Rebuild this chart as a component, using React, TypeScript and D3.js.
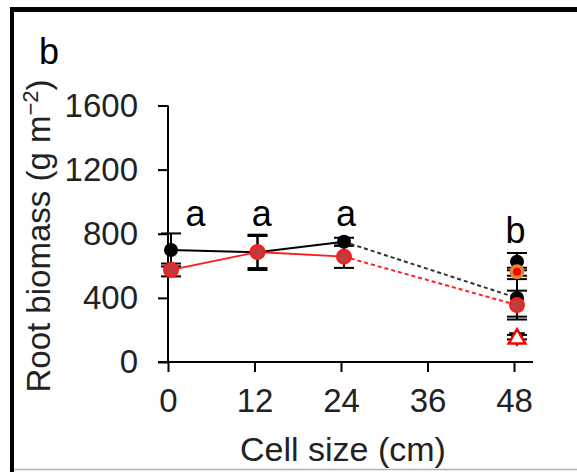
import {useEffect, useRef} from "react";
import * as d3 from "d3";

// cell sizes (cm) and root biomass (g m-2)
const cellSizes = [0, 12, 24, 48];
const blackMean = [699, 684, 750];
const blackErr = [103, 110, 25];
const redMean = [574, 686, 657];
const redErr = [40, 100, 70];

// values at 48 cm
const endBlackHigh = {v: 626, e: 54};
const endOrange = {v: 563, e: 25};
const endBlackLow = {v: 400, e: 117};
const endRedLow = {v: 355, e: 90};
const endBlackTri = {v: 155, e: 14};
const endRedTri = {v: 145, e: 0};

const letters = ["a", "a", "a", "b"];
const letterX = [3.8, 13, 24.7, 48.2];
const letterY = [850, 850, 850, 745];

const xTicks = [0, 12, 24, 36, 48];
const yTicks = [0, 400, 800, 1200, 1600];

const FONT = "Liberation Sans, Arial, sans-serif";

export default function App() {
    const svgRef = useRef<SVGSVGElement>(null);
    const width = 577;
    const height = 472;

    useEffect(() => {
        if (!svgRef.current) return;
        const svg = d3.select(svgRef.current);
        svg.selectAll("*").remove();

        const x = d3.scaleLinear().domain([0, 48]).range([168, 514]);
        const y = d3.scaleLinear().domain([0, 1600]).range([362, 105.5]);
        const dx = 3;

        // frame
        svg.append("rect").attr("x", 10).attr("y", 7).attr("width", width - 10).attr("height", 5).attr("fill", "#000");
        svg.append("rect").attr("x", 10).attr("y", 7).attr("width", 4).attr("height", height - 7).attr("fill", "#000");
        svg.append("line").attr("x1", 14).attr("x2", width).attr("y1", 469.5).attr("y2", 469.5)
            .attr("stroke", "#b0b0b0").attr("stroke-width", 1.5);

        // panel letter
        svg.append("text").text("b").attr("x", 39).attr("y", 64)
            .style("font-family", FONT).style("font-size", "36px");

        // axes
        const yAxis = svg.append("g").attr("transform", `translate(${x(0)},0)`)
            .call(d3.axisLeft(y).tickValues(yTicks).tickSize(10).tickSizeOuter(0).tickPadding(20).tickFormat(d3.format("d")));
        const xAxis = svg.append("g").attr("transform", `translate(0,${y(0)})`)
            .call(d3.axisBottom(x).tickValues(xTicks).tickSize(10).tickSizeOuter(0).tickPadding(17));
        [yAxis, xAxis].forEach(g => {
            g.select(".domain").remove();
            g.selectAll("line").attr("stroke", "#000").attr("stroke-width", 2);
            g.selectAll("text").style("font-family", FONT).style("font-size", "33px").attr("fill", "#222");
        });
        svg.append("line").attr("x1", x(0)).attr("x2", x(0)).attr("y1", y(1600)).attr("y2", y(0))
            .attr("stroke", "#000").attr("stroke-width", 2);
        svg.append("line").attr("x1", x(0) - 10).attr("x2", 533).attr("y1", y(0)).attr("y2", y(0))
            .attr("stroke", "#000").attr("stroke-width", 2);

        // axis titles
        svg.append("text").text("Cell size (cm)").attr("x", 343).attr("y", 461)
            .attr("text-anchor", "middle").style("font-family", FONT).style("font-size", "34px").attr("fill", "#222");
        const yt = svg.append("text").attr("transform", "translate(50,236) rotate(-90)")
            .attr("text-anchor", "middle").style("font-family", FONT).style("font-size", "33px").attr("fill", "#222");
        yt.append("tspan").text("Root biomass (g m");
        yt.append("tspan").text("\u22122").attr("dy", -12).style("font-size", "22px");
        yt.append("tspan").text(")").attr("dy", 12);

        const errBar = (cx: number, v: number, e: number, color = "#000") => {
            if (!e) return;
            const g = svg.append("g").attr("stroke", color).attr("stroke-width", 2);
            g.append("line").attr("x1", cx).attr("x2", cx).attr("y1", y(v - e)).attr("y2", y(v + e));
            [v - e, v + e].forEach(t => g.append("line").attr("x1", cx - 10).attr("x2", cx + 10).attr("y1", y(t)).attr("y2", y(t)));
        };

        const xs = cellSizes.slice(0, 3).map(c => x(c) + dx);
        const xe = x(48) + dx;

        // error bars
        xs.forEach((cx, i) => { errBar(cx, blackMean[i], blackErr[i]); errBar(cx, redMean[i], redErr[i]); });
        [endBlackHigh, endOrange, endBlackLow, endRedLow, endBlackTri].forEach(p => errBar(xe, p.v, p.e));

        // solid lines
        const line = d3.line<number>().x((d, i) => xs[i]).y(d => y(d));
        svg.append("path").attr("d", line(blackMean)).attr("fill", "none").attr("stroke", "#000").attr("stroke-width", 2);
        svg.append("path").attr("d", line(redMean)).attr("fill", "none").attr("stroke", "#ff1a1a").attr("stroke-width", 1.8);

        // dashed lines to 48
        svg.append("line").attr("x1", xs[2]).attr("y1", y(blackMean[2])).attr("x2", xe).attr("y2", y(endBlackLow.v))
            .attr("stroke", "#333").attr("stroke-width", 2).attr("stroke-dasharray", "4,3");
        svg.append("line").attr("x1", xs[2]).attr("y1", y(redMean[2])).attr("x2", xe).attr("y2", y(endRedLow.v))
            .attr("stroke", "#ff2020").attr("stroke-width", 2).attr("stroke-dasharray", "4,3");

        const blackDot = (cx: number, v: number) =>
            svg.append("circle").attr("cx", cx).attr("cy", y(v)).attr("r", 7).attr("fill", "#000");
        const redDot = (cx: number, v: number) =>
            svg.append("circle").attr("cx", cx).attr("cy", y(v)).attr("r", 7).attr("fill", "#c03a3e")
                .attr("stroke", "#ff1a1a").attr("stroke-width", 2);

        xs.forEach((cx, i) => { blackDot(cx, blackMean[i]); redDot(cx, redMean[i]); });

        blackDot(xe, endBlackHigh.v);
        svg.append("circle").attr("cx", xe).attr("cy", y(endOrange.v)).attr("r", 7.5).attr("fill", "#e08a30");
        svg.append("circle").attr("cx", xe).attr("cy", y(endOrange.v)).attr("r", 4).attr("fill", "#ff0000");
        blackDot(xe, endBlackLow.v);
        redDot(xe, endRedLow.v);

        const tri = d3.symbol().type(d3.symbolTriangle).size(120);
        svg.append("path").attr("d", tri()).attr("transform", `translate(${xe},${y(endBlackTri.v)}) rotate(180)`)
            .attr("fill", "#000");
        svg.append("path").attr("d", tri()).attr("transform", `translate(${xe},${y(endRedTri.v)})`)
            .attr("fill", "#fff").attr("stroke", "#ff0000").attr("stroke-width", 2.5);

        // significance letters
        letters.forEach((l, i) => {
            svg.append("text").text(l).attr("x", x(letterX[i])).attr("y", y(letterY[i]))
                .attr("text-anchor", "middle").style("font-family", FONT).style("font-size", "36px").attr("fill", "#000");
        });
    }, []);

    return (
        <svg ref={svgRef} width={width} height={height}
             style={{position: "absolute", left: 0, top: 0, background: "#fff"}}></svg>
    );
}
